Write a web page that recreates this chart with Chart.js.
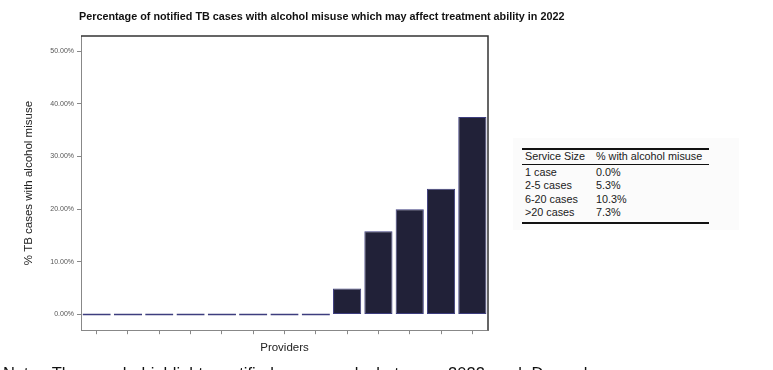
<!DOCTYPE html>
<html>
<head>
<meta charset="utf-8">
<script src="https://cdn.jsdelivr.net/npm/chart.js@4.4.1/dist/chart.umd.min.js"></script>
<style>
  html, body { margin: 0; padding: 0; background: #fff; overflow: hidden; }
  #wrap { position: relative; width: 773px; height: 370px; font-family: "Liberation Sans", Arial, sans-serif; }
  #chart { position: absolute; left: 0; top: 0; }
  #tableBox { position: absolute; left: 513px; top: 138px; width: 226px; height: 92px; background: #fbfbfb; }
  #svc { position: absolute; left: 522px; top: 148px; width: 187px; border-collapse: collapse; font-size: 10.8px; color: #1a1a1a; }
  #svc th, #svc td { text-align: left; font-weight: normal; padding: 0 0 0 3px; line-height: 13.6px; white-space: nowrap; }
  #svc th:first-child, #svc td:first-child { width: 68px; }
  #svc tbody tr:first-child td { padding-top: 1px; }
  #svc tbody tr:last-child td { padding-bottom: 2px; }
  #svc thead tr { border-top: 2px solid #111; border-bottom: 1px solid #111; }
  #svc tbody tr:last-child { border-bottom: 2px solid #111; }
  #note { position: absolute; left: 3px; top: 364px; font-size: 16.5px; word-spacing: 5px; color: #111; white-space: nowrap; }
</style>
</head>
<body>
<div id="wrap">
  <canvas id="chart" width="773" height="370"></canvas>
  <div id="tableBox"></div>
  <table id="svc">
    <thead><tr><th>Service Size</th><th>% with alcohol misuse</th></tr></thead>
    <tbody id="svcBody"></tbody>
  </table>
  <div id="note">Note: The graph highlights notified cases only between 2022 and December</div>
</div>
<script>
// providers, one bar each
const providers = ['P1', 'P2', 'P3', 'P4', 'P5', 'P6', 'P7', 'P8', 'P9', 'P10', 'P11', 'P12', 'P13'];
const alcoholPct = [0, 0, 0, 0, 0, 0, 0, 0, 4.9, 15.8, 20.0, 23.9, 37.5];
const yTicks = [0, 10, 20, 30, 40, 50];

// side table
const serviceSizes = ['1 case', '2-5 cases', '6-20 cases', '>20 cases'];
const servicePct = ['0.0%', '5.3%', '10.3%', '7.3%'];

const body = document.getElementById('svcBody');
serviceSizes.forEach((s, i) => {
  const tr = document.createElement('tr');
  tr.innerHTML = '<td>' + s + '</td><td>' + servicePct[i] + '</td>';
  body.appendChild(tr);
});

const titleText = 'Percentage of notified TB cases with alcohol misuse which may affect treatment ability in 2022';

// title over the panel + dark top/right frame
const framePlugin = {
  id: 'frame',
  afterDraw(chart) {
    const { ctx, chartArea: a } = chart;
    ctx.save();
    ctx.strokeStyle = '#333';
    ctx.lineWidth = 1.5;
    ctx.beginPath();
    ctx.moveTo(a.left, a.top);
    ctx.lineTo(a.right, a.top);
    ctx.lineTo(a.right, a.bottom);
    ctx.stroke();
    ctx.fillStyle = '#111';
    ctx.font = 'bold 10.8px "Liberation Sans", Arial, sans-serif';
    ctx.textBaseline = 'middle';
    ctx.fillText(titleText, a.left - 2, 17);
    ctx.restore();
  }
};

new Chart(document.getElementById('chart'), {
  type: 'bar',
  data: {
    labels: providers,
    datasets: [{
      data: alcoholPct,
      backgroundColor: '#212138',
      borderColor: '#3d3d7e',
      borderWidth: 1,
      borderSkipped: false,
      minBarLength: 2,
      barPercentage: 0.9,
      categoryPercentage: 1.0
    }]
  },
  options: {
    responsive: false,
    animation: false,
    layout: { padding: { left: 22, right: 285, top: 36, bottom: 15 } },
    plugins: {
      legend: { display: false },
      tooltip: { enabled: false }
    },
    scales: {
      x: {
        grid: { display: true, drawOnChartArea: false, offset: false, tickLength: 4, color: '#888' },
        border: { display: true, color: '#888', width: 1 },
        ticks: { display: false },
        title: {
          display: true,
          text: 'Providers',
          color: '#222',
          font: { size: 11.5, family: '"Liberation Sans", Arial, sans-serif' },
          padding: { top: 7, bottom: 0 }
        }
      },
      y: {
        min: -3,
        max: 52.9,
        afterFit(scale) { scale.width = 59; },
        afterBuildTicks(scale) { scale.ticks = yTicks.map(v => ({ value: v })); },
        grid: { display: true, drawOnChartArea: false, tickLength: 4, color: '#888' },
        border: { display: true, color: '#888', width: 1 },
        ticks: {
          color: '#555',
          padding: 3,
          font: { size: 7, family: '"Liberation Sans", Arial, sans-serif' },
          callback: v => v.toFixed(2) + '%'
        },
        title: {
          display: true,
          text: '% TB cases with alcohol misuse',
          color: '#222',
          font: { size: 11.5, family: '"Liberation Sans", Arial, sans-serif' },
          padding: { top: 0, bottom: 4 }
        }
      }
    }
  },
  plugins: [framePlugin]
});
</script>
</body>
</html>
